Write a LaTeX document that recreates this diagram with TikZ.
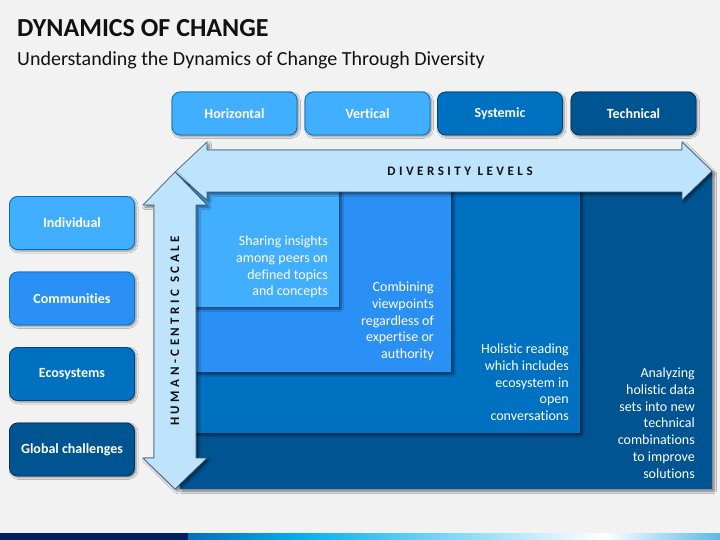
\documentclass[tikz,border=0pt]{standalone}
\usepackage{fontspec}
\setmainfont[Ligatures=NoCommon]{Carlito}
\usetikzlibrary{shadows.blur}
\definecolor{bg}{HTML}{F2F2F2}
\definecolor{cA}{HTML}{41AEFF}
\definecolor{cB}{HTML}{2B90F5}
\definecolor{cC}{HTML}{0070C0}
\definecolor{cD}{HTML}{005492}
\definecolor{arrowfill}{HTML}{BEE3FC}
\definecolor{arrowline}{HTML}{3E5F80}
\definecolor{navy}{HTML}{002060}
\definecolor{barstart}{HTML}{006EBE}
\definecolor{barcyan}{HTML}{00B0F0}
\definecolor{barend}{HTML}{5AB9EB}
\definecolor{titlec}{HTML}{111111}
\pgfdeclarehorizontalshading{barshade}{100bp}{color(0bp)=(barstart); color(25bp)=(barstart); color(35.5bp)=(barcyan); color(64bp)=(white); color(75bp)=(barend); color(100bp)=(barend)}
\tikzset{
  boxsh/.style={blur shadow={shadow xshift=1.5pt, shadow yshift=-1.5pt, shadow blur radius=2pt, shadow opacity=45}},
  stepsh/.style={blur shadow={shadow xshift=2pt, shadow yshift=-2pt, shadow blur radius=2.5pt, shadow opacity=55}},
  lvlbox/.style={rounded corners=8pt, boxsh, line width=0.8pt, minimum width=125pt, text=white, font=\fontsize{14}{16}\selectfont\bfseries, inner sep=0pt},
  topbox/.style={lvlbox, minimum height=43pt},
  sidebox/.style={lvlbox, minimum height=53pt},
  steptext/.style={text=white, align=right, anchor=north east, inner sep=0pt, font=\fontsize{14}{16.8}\selectfont},
  arrowsty/.style={fill=arrowfill, draw=arrowline, line width=0.7pt, line join=miter},
  spacedlabel/.style={inner sep=0pt, text=titlec, font=\fontsize{13}{15}\selectfont\bfseries\addfontfeatures{LetterSpace=27}}
}
\begin{document}
\begin{tikzpicture}[x=1pt,y=-1pt]
\useasboundingbox (0,0) rectangle (720,540);
\fill[bg] (0,0) rectangle (720,540);

% staircase
\fill[cD, stepsh] (180,172) rectangle (712,489);
\fill[cC, stepsh] (190,185) rectangle (580,433);
\fill[cB, stepsh] (190,185) rectangle (451,372);
\fill[cA, stepsh] (190,185) rectangle (339,307);

\node[steptext] (t1) at (328,235.5) {Sharing insights\\among peers on\\defined topics\\and concepts};
\node[steptext] (t2) at (434,281.5) {Combining\\viewpoints\\regardless of\\expertise or\\authority};
\node[steptext] (t3) at (569,343.5) {Holistic reading\\which includes\\ecosystem in\\open\\conversations};
\node[steptext] (t4) at (695,367.5) {Analyzing\\holistic data\\sets into new\\technical\\combinations\\to improve\\solutions};

% horizontal arrow
\draw[arrowsty, stepsh] (175,172) -- (207,142) -- (207,150) -- (682,150) -- (682,142) -- (712,171) -- (682,200) -- (682,192) -- (207,192) -- (207,200) -- cycle;
\node[spacedlabel] (div) at (460,171) {DIVERSITY LEVELS};

% vertical arrow
\draw[arrowsty, stepsh] (175,172) -- (207,205) -- (196,205) -- (196,458) -- (207,458) -- (175,489) -- (143,458) -- (154,458) -- (154,205) -- (143,205) -- cycle;
\node[spacedlabel, rotate=90] (hum) at (175,331) {HUMAN-CENTRIC SCALE};

% top boxes
\node[topbox, fill=cA, draw=cC] (horiz) at (234.5,113.5) {Horizontal};
\node[topbox, fill=cA, draw=cC] (vert) at (367.5,113.5) {Vertical};
\node[topbox, fill=cC, draw=cD!80!black] (syst) at (500,113.5) {Systemic};
\node[topbox, fill=cD, draw=cD!60!black] (tech) at (633.5,113.5) {Technical};

% side boxes
\node[sidebox, fill=cA, draw=cC] (indiv) at (72,223) {Individual};
\node[sidebox, fill=cB, draw=cC] (comm) at (72,298.5) {Communities};
\node[sidebox, fill=cC, draw=cD!80!black] (eco) at (72,374) {Ecosystems};
\node[sidebox, fill=cD, draw=cD!60!black] (glob) at (72,449.5) {Global challenges};

% titles
\node[anchor=base west, inner sep=0pt, text=titlec, font=\fontsize{26}{30}\selectfont\bfseries] (title) at (17,37) {DYNAMICS OF CHANGE};
\node[anchor=base west, inner sep=0pt, text=titlec, font=\fontsize{20}{24}\selectfont] (sub) at (17,66) {Understanding the Dynamics of Change Through Diversity};

% bottom bar
\fill[navy] (0,533) rectangle (188,540);
\fill[shading=barshade] (188,533) rectangle (720,540);
\end{tikzpicture}
\end{document}
